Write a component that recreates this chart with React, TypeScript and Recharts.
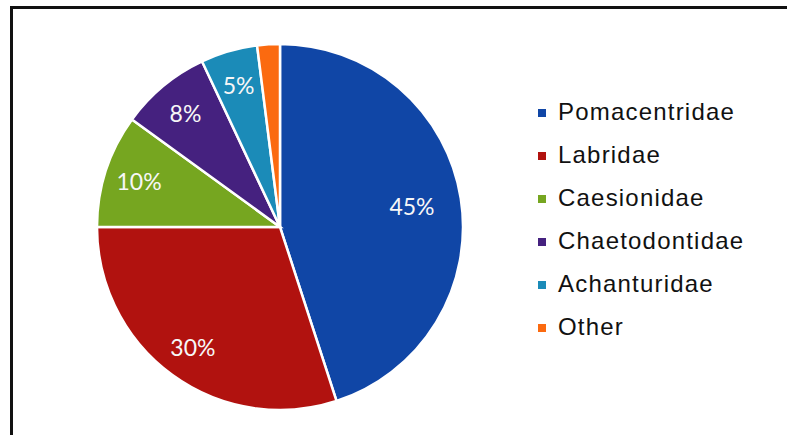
import React from 'react';
import { PieChart, Pie, Cell, Legend } from 'recharts';

const families = ['Pomacentridae', 'Labridae', 'Caesionidae', 'Chaetodontidae', 'Achanturidae', 'Other'];
const shares = [45, 30, 10, 8, 5, 2];
const colors = ['#1046a6', '#b1120f', '#76a620', '#45217f', '#1b8bb8', '#fb6a10'];

const data = families.map((name, i) => ({ name, value: shares[i] }));

const RAD = Math.PI / 180;

// Excel-style inside labels, the big slice sits a bit closer to the centre
function renderLabel(props: any) {
  const { cx, cy, midAngle, outerRadius, percent } = props;
  if (percent < 0.03) return null;
  const r = outerRadius * (percent > 0.4 ? 0.73 : 0.81);
  const x = cx + r * Math.cos(-midAngle * RAD);
  const y = cy + r * Math.sin(-midAngle * RAD);
  return (
    <text
      x={x}
      y={y}
      fill="#f7f7f7"
      textAnchor="middle"
      dominantBaseline="central"
      fontFamily="Lato, 'Open Sans', sans-serif"
      fontSize={23}
    >
      {`${Math.round(percent * 100)}%`}
    </text>
  );
}

function LegendBox() {
  return (
    <div>
      {families.map((f, i) => (
        <div key={f} style={{ display: 'flex', alignItems: 'center', height: 43 }}>
          <span style={{ width: 8, height: 8, background: colors[i], marginRight: 12, marginTop: 3 }} />
          <span
            style={{
              fontFamily: "'Liberation Sans', Arial, sans-serif",
              fontSize: 24,
              letterSpacing: 1.2,
              color: '#111',
            }}
          >
            {f}
          </span>
        </div>
      ))}
    </div>
  );
}

export default function App() {
  return (
    <div style={{ position: 'fixed', left: 0, top: 0, width: 787, height: 435, background: '#fff', overflow: 'hidden' }}>
      <div
        style={{
          position: 'absolute',
          left: 10,
          top: 6,
          width: 820,
          height: 460,
          border: '3px solid #111',
          boxSizing: 'border-box',
        }}
      />
      <div style={{ position: 'absolute', left: 0, top: 0 }}>
        <PieChart width={787} height={435}>
          <Pie
            data={data}
            dataKey="value"
            nameKey="name"
            cx={275}
            cy={222}
            outerRadius={183}
            startAngle={90}
            endAngle={-270}
            stroke="#fff"
            strokeWidth={2.5}
            label={renderLabel}
            labelLine={false}
            isAnimationActive={false}
          >
            {data.map((d, i) => (
              <Cell key={d.name} fill={colors[i]} />
            ))}
          </Pie>
          <Legend
            layout="vertical"
            content={<LegendBox />}
            wrapperStyle={{ left: 538, top: 90, width: 240 }}
          />
        </PieChart>
      </div>
    </div>
  );
}
